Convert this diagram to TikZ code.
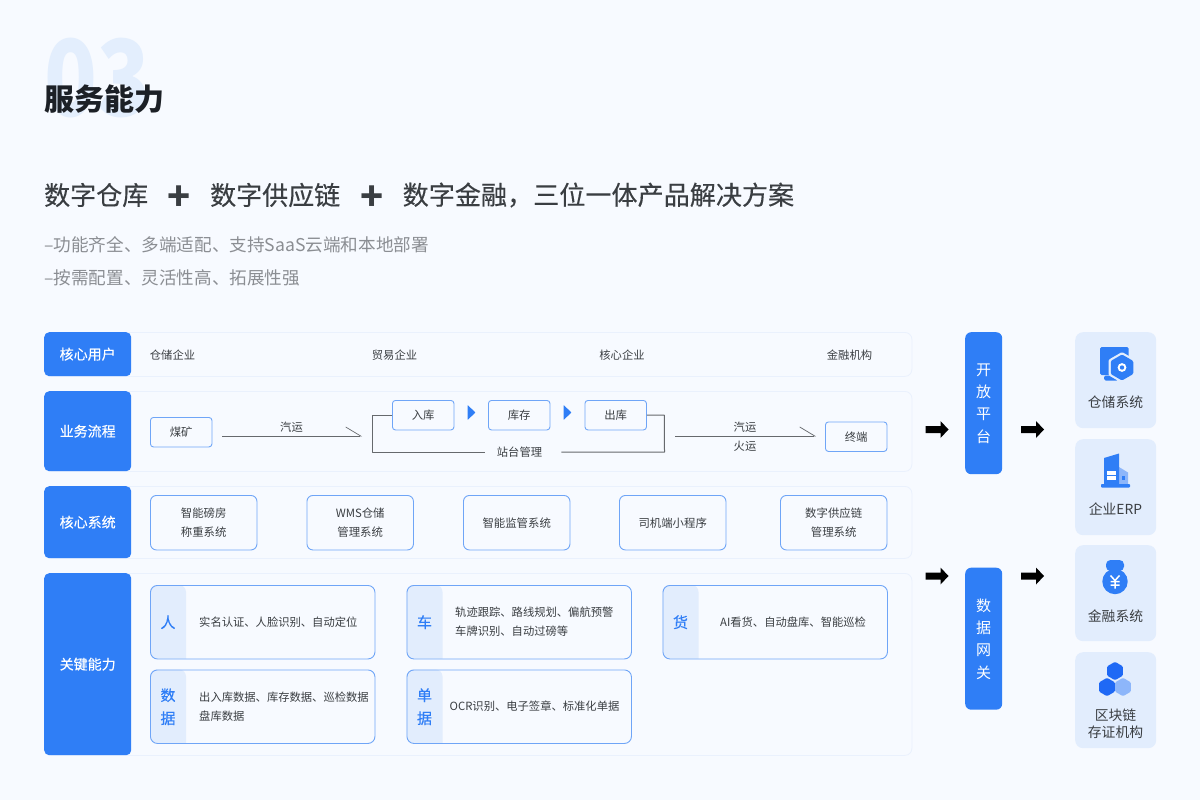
\documentclass[tikz,border=0pt]{standalone}
\usepackage{fontspec}
\setmainfont{Noto Sans CJK SC}
\newfontfamily\medfont{Noto Sans CJK SC}[FakeBold=0.25]
\usetikzlibrary{arrows.meta}
\definecolor{pagebg}{HTML}{F7FAFF}
\definecolor{rowline}{HTML}{EAF1FD}
\definecolor{brand}{HTML}{2F7EF6}
\definecolor{boxline}{HTML}{6FA5F7}
\definecolor{tint}{HTML}{E2EDFD}
\definecolor{ghost}{HTML}{E3EEFD}
\definecolor{ink}{HTML}{3A3E42}
\definecolor{titleink}{HTML}{1C2026}
\definecolor{subink}{HTML}{8B8E93}
\definecolor{wire}{HTML}{66696D}
\definecolor{hexdeep}{HTML}{1F69F5}
\definecolor{hexpale}{HTML}{8DB6FA}
\newcommand\fsz[2]{\fontsize{#1}{#2}\selectfont}
\tikzset{
  rowbox/.style={draw=rowline,line width=.8pt,fill=pagebg,rounded corners=7pt,inner sep=0pt,anchor=north west},
  tabbox/.style={fill=brand,rounded corners=5pt,inner sep=0pt,anchor=north west,text=white,
    font=\medfont\fsz{14}{18}},
  flowbox/.style={draw=boxline,line width=.9pt,fill=pagebg,rounded corners=3pt,inner sep=0pt,
    minimum width=61.5pt,minimum height=29.5pt,anchor=north west,text=ink,font=\fsz{11.4}{14}},
  sysbox/.style={draw=boxline,line width=.9pt,fill=pagebg,rounded corners=6pt,inner sep=0pt,
    minimum width=106.5pt,minimum height=54.5pt,anchor=north west,text=ink,align=center,font=\fsz{11.4}{19}},
  keybox/.style={draw=boxline,line width=.9pt,rounded corners=7pt,inner sep=0pt,
    minimum width=224.5pt,minimum height=73.5pt,anchor=north west},
  keylabel/.style={text=brand,align=center,inner sep=0pt,font=\medfont\fsz{15}{23}},
  keytext/.style={text=ink,align=left,anchor=west,inner sep=0pt,font=\fsz{11.3}{19}},
  plain/.style={text=ink,inner sep=0pt,font=\fsz{11.3}{19},align=center},
  gatebox/.style={fill=brand,rounded corners=6pt,inner sep=0pt,minimum width=37pt,minimum height=142pt,
    anchor=north west},
  gatetext/.style={text=white,align=center,inner sep=0pt,font=\fsz{15}{22.4}},
  sidecard/.style={fill=tint,rounded corners=8pt,inner sep=0pt,minimum width=81pt,minimum height=96pt,anchor=north west},
  sidetext/.style={text=ink,align=center,inner sep=0pt,font=\fsz{13.8}{17}},
  wireline/.style={draw=wire,line width=1pt},
  barbline/.style={draw=wire,line width=1pt,-{Straight Barb[left,length=15pt,width=18pt,line width=.7pt]}},
}
% black block arrow, given by its left end and its axis
\newcommand\blockarrow[2]{%
  \fill[black,shift={(#1,#2)}] (0,-3.5) -- (15,-3.5) -- (15,-8.5) -- (23,0) -- (15,8.5) -- (15,3.5) -- (0,3.5) -- cycle;}
% small blue step marker between the warehouse stages
\newcommand\stepmark[2]{%
  \fill[brand,rounded corners=.6pt,shift={(#1,#2)}] (0,-7.5) -- (8,0) -- (0,7.5) -- cycle;}
% capability card: name, x, y, tab label, text x, text
\newcommand\keycard[6]{%
  \fill[tint,shift={(#2,#3)}] [rounded corners=7pt] (36,73.5) -- (0,73.5) -- (0,0) -- (36,0) [sharp corners] -- cycle;
  \node[keybox] (#1) at (#2,#3) {};
  \node[keylabel] (#1-tab) at ([xshift=18pt]#1.west) {#4};
  \node[keytext] (#1-text) at (#5,#3+37) {#6};}
% upright pointed hexagon
\newcommand\hexa[4]{%
  \fill[#4,rounded corners=1.2pt] (#1,#2-#3) -- (#1+.866*#3,#2-.5*#3) -- (#1+.866*#3,#2+.5*#3)
    -- (#1,#2+#3) -- (#1-.866*#3,#2+.5*#3) -- (#1-.866*#3,#2-.5*#3) -- cycle;}
\begin{document}
\begin{tikzpicture}[x=1pt,y=-1pt]
\useasboundingbox (0,0) rectangle (1200,800);
\fill[pagebg] (0,0) rectangle (1200,800);

% heading block
\node[text=ghost,inner sep=0pt,anchor=center] (ghostnum) at (97.5,78) {\scalebox{.82}[1]{\fsz{106}{106}\bfseries 03}};
\node[text=titleink,inner sep=0pt,anchor=west] (heading) at (44,99) {\fsz{30}{32}\bfseries 服务能力};
\node[text=ink,inner sep=0pt,anchor=west] (sub1) at (44,195) {\medfont\fsz{26}{30}数字仓库};
\node[text=ink,inner sep=0pt] (plus1) at (179.5,198) {\fsz{38}{38}\bfseries +};
\node[text=ink,inner sep=0pt,anchor=west] (sub2) at (210,195) {\medfont\fsz{26}{30}数字供应链};
\node[text=ink,inner sep=0pt] (plus2) at (372,198) {\fsz{38}{38}\bfseries +};
\node[text=ink,inner sep=0pt,anchor=west] (sub3) at (402.5,195) {\medfont\fsz{26.1}{30}数字金融，三位一体产品解决方案};
\node[text=subink,inner sep=0pt,anchor=west] (note1) at (44,245) {\fsz{17.6}{22}–功能齐全、多端适配、支持SaaS云端和本地部署};
\node[text=subink,inner sep=0pt,anchor=west] (note2) at (44,278) {\fsz{17.6}{22}–按需配置、灵活性高、拓展性强};

% row panels
\node[rowbox,minimum width=867.5pt,minimum height=44pt] (row1) at (44,332) {};
\node[rowbox,minimum width=867.5pt,minimum height=80pt] (row2) at (44,391) {};
\node[rowbox,minimum width=867.5pt,minimum height=72pt] (row3) at (44,486) {};
\node[rowbox,minimum width=867.5pt,minimum height=182pt] (row4) at (44,573) {};
\node[tabbox,minimum width=87pt,minimum height=44pt] (tab1) at (44,332) {核心用户};
\node[tabbox,minimum width=87pt,minimum height=80pt] (tab2) at (44,391) {业务流程};
\node[tabbox,minimum width=87pt,minimum height=72pt] (tab3) at (44,486) {核心系统};
\node[tabbox,minimum width=87pt,minimum height=182pt] (tab4) at (44,573) {关键能力};

% core users
\node[plain] (user1) at (172.5,355.5) {仓储企业};
\node[plain] (user2) at (394.5,355.5) {贸易企业};
\node[plain] (user3) at (622,355.5) {核心企业};
\node[plain] (user4) at (849.5,355.5) {金融机构};

% business flow
\node[flowbox] (coal) at (150,417) {煤矿};
\node[flowbox] (inbound) at (392,400) {入库};
\node[flowbox] (stock) at (488,400) {库存};
\node[flowbox] (outbound) at (584.5,400) {出库};
\node[flowbox] (terminal) at (825,421.5) {终端};
\node[plain] (station) at (519.5,452) {站台管理};
\node[plain] (road1) at (291.5,427) {汽运};
\node[plain] (road2) at (745,427) {汽运};
\node[plain] (rail) at (745,446) {火运};
\coordinate (coalout) at (222,436);
\coordinate (coalend) at (362,436);
\coordinate (outstart) at (675,436);
\coordinate (outend) at (816,436);
\coordinate (leftcorner) at (372,452);
\coordinate (rightcorner) at (664.5,452);
\draw[barbline] (coalout) -- (coalend);
\draw[barbline] (outstart) -- (outend);
\draw[wireline,line join=round] (inbound.west) -- ++(-20,0) -- (leftcorner) -- ([xshift=-12pt]station.west);
\draw[wireline,line join=round] (outbound.east) -- ++(17.5,0) -- (rightcorner) -- ([xshift=19pt]station.east);
\stepmark{467.5}{412.5}
\stepmark{563.5}{412.5}

% core systems
\node[sysbox] (sys1) at (150,495) {智能磅房\\称重系统};
\node[sysbox] (sys2) at (306.5,495) {WMS仓储\\管理系统};
\node[sysbox] (sys3) at (463,495) {智能监管系统};
\node[sysbox] (sys4) at (619,495) {司机端小程序};
\node[sysbox] (sys5) at (780,495) {数字供应链\\管理系统};

% key capabilities
\keycard{person}{150}{585}{人}{199}{实名认证、人脸识别、自动定位}
\keycard{truck}{406.5}{585}{车}{455}{轨迹跟踪、路线规划、偏航预警\\车牌识别、自动过磅等}
\keycard{goods}{662.5}{585}{货}{720}{AI看货、自动盘库、智能巡检}
\keycard{records}{150}{669.5}{数\\据}{199}{出入库数据、库存数据、巡检数据\\盘库数据}
\keycard{bills}{406.5}{669.5}{单\\据}{449.5}{OCR识别、电子签章、标准化单据}

% gateways and flow arrows
\node[gatebox] (platform) at (965,332) {};
\node[gatebox] (gateway) at (965,567.5) {};
\node[gatetext] (platform-text) at (983.5,403.5) {开\\放\\平\\台};
\node[gatetext] (gateway-text) at (983.5,639) {数\\据\\网\\关};
\blockarrow{925.5}{429.5}
\blockarrow{1021}{429.5}
\blockarrow{925.5}{576}
\blockarrow{1021}{576}

% connected systems
\node[sidecard] (card1) at (1075,332) {};
\node[sidecard] (card2) at (1075,439) {};
\node[sidecard] (card3) at (1075,545) {};
\node[sidecard] (card4) at (1075,652) {};
\node[sidetext] (side1) at (1115.5,402.5) {仓储系统};
\node[sidetext] (side2) at (1115.5,508.5) {企业ERP};
\node[sidetext] (side3) at (1115.5,616) {金融系统};
\node[sidetext] (side4) at (1115.5,723.5) {区块链\\存证机构};

% warehouse icon
\fill[brand,rounded corners=1.5pt] (1100,347) rectangle (1128.5,375);
\fill[brand,rounded corners=1.5pt] (1104,375.5) rectangle (1118,380.5);
\hexa{1122}{367.5}{15.5}{tint}
\hexa{1122}{367.5}{13}{brand}
\fill[white] (1122,367.5) circle (4.4);
\fill[brand] (1122,367.5) circle (2.2);

% enterprise building icon
\fill[hexpale] (1119,467) -- (1128,472.5) -- (1128,484.5) -- (1119,484.5) -- cycle;
\fill[brand] (1104,458) -- (1119,453.5) -- (1119,484.5) -- (1104,484.5) -- cycle;
\fill[brand,rounded corners=.8pt] (1101,484) rectangle (1130,487.5);
\fill[white] (1107,470.5) rectangle (1115.5,474.5);
\fill[white] (1107,476) rectangle (1115.5,479.5);
\fill[brand] (1121.5,476) rectangle (1125,479.5);

% money bag icon
\fill[brand] (1115,581.5) circle (12.7);
\fill[brand,rounded corners=4.5pt] (1106,560) rectangle (1124,571);
\draw[white,line width=1.5pt] (1110.5,575.5) -- (1115,580.5) -- (1119.5,575.5) (1115,580.5) -- (1115,588.5) (1110.5,581.5) -- (1119.5,581.5) (1110.5,585) -- (1119.5,585);

% blockchain icon
\hexa{1115}{671}{9.2}{hexdeep}
\hexa{1107}{687}{9.2}{hexdeep}
\hexa{1123}{687}{9.2}{hexpale}
\end{tikzpicture}
\end{document}
